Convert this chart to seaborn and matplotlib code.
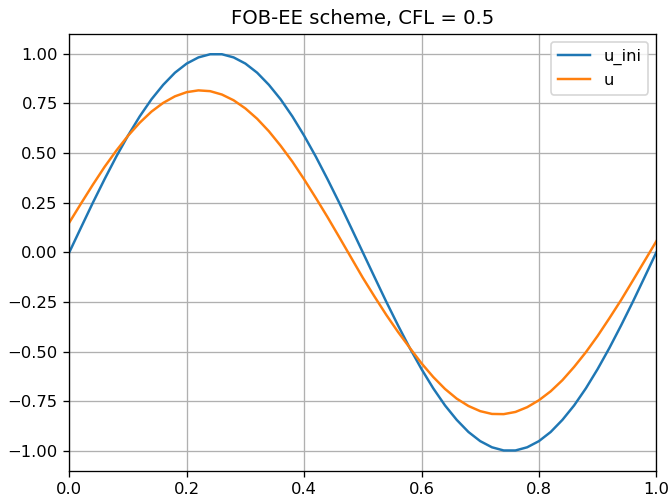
import matplotlib
matplotlib.use("Agg")
import matplotlib.pyplot as plt
import seaborn as sns
import numpy as np

# grid nodes
x = [0.00, 0.02, 0.04, 0.06, 0.08, 0.10, 0.12, 0.14, 0.16, 0.18,
     0.20, 0.22, 0.24, 0.26, 0.28, 0.30, 0.32, 0.34, 0.36, 0.38,
     0.40, 0.42, 0.44, 0.46, 0.48, 0.50, 0.52, 0.54, 0.56, 0.58,
     0.60, 0.62, 0.64, 0.66, 0.68, 0.70, 0.72, 0.74, 0.76, 0.78,
     0.80, 0.82, 0.84, 0.86, 0.88, 0.90, 0.92, 0.94, 0.96, 0.98, 1.00]

# initial condition
u_ini = [0.000, 0.125, 0.249, 0.368, 0.482, 0.588, 0.685, 0.771, 0.844, 0.905,
         0.951, 0.982, 0.998, 0.998, 0.982, 0.951, 0.905, 0.844, 0.771, 0.685,
         0.588, 0.482, 0.368, 0.249, 0.125, 0.000, -0.125, -0.249, -0.368, -0.482,
         -0.588, -0.685, -0.771, -0.844, -0.905, -0.951, -0.982, -0.998, -0.998, -0.982,
         -0.951, -0.905, -0.844, -0.771, -0.685, -0.588, -0.482, -0.368, -0.249, -0.125, 0.000]

# numerical solution
u = [0.150, 0.246, 0.340, 0.430, 0.512, 0.587, 0.653, 0.709, 0.753, 0.786,
     0.807, 0.816, 0.812, 0.795, 0.766, 0.725, 0.673, 0.610, 0.537, 0.457,
     0.368, 0.274, 0.177, 0.076, -0.026, -0.128, -0.223, -0.315, -0.401, -0.481,
     -0.559, -0.628, -0.688, -0.737, -0.774, -0.800, -0.814, -0.815, -0.804, -0.780,
     -0.745, -0.700, -0.644, -0.577, -0.503, -0.421, -0.332, -0.240, -0.142, -0.043, 0.056]

title = "FOB-EE scheme, CFL = 0.5"

DPI = 118
fig = plt.figure(figsize=(670 / DPI, 497 / DPI), dpi=DPI)
ax = fig.add_axes([0.1034, 0.0529, 0.8762, 0.8787])

sns.lineplot(x=x, y=u_ini, ax=ax, label="u_ini", color="C0", linewidth=1.5, sort=False)
sns.lineplot(x=x, y=u, ax=ax, label="u", color="C1", linewidth=1.5, sort=False)

ax.set_xlim(0, 1)
ax.set_ylim(-1.1, 1.1)
ax.set_yticks([-1.0, -0.75, -0.5, -0.25, 0.0, 0.25, 0.5, 0.75, 1.0])
ax.grid(True)
ax.set_title(title)
ax.legend(loc="upper right")

fig.savefig("out.png", dpi=DPI)
